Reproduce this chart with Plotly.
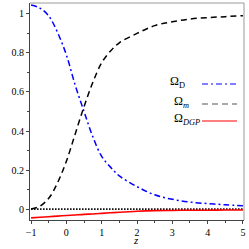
import plotly.graph_objects as go

z = [-1, -0.75, -0.5, -0.25, 0, 0.25, 0.5, 0.75, 1, 1.25, 1.5, 2, 2.5, 3, 3.5, 4, 4.5, 5]
omega_D = [1.046, 1.03, 0.99, 0.905, 0.79, 0.635, 0.50, 0.37, 0.27, 0.215, 0.17, 0.115, 0.073, 0.05, 0.036, 0.028, 0.022, 0.017]
omega_m = [0.0, 0.015, 0.055, 0.135, 0.245, 0.385, 0.525, 0.65, 0.75, 0.81, 0.852, 0.9, 0.94, 0.96, 0.974, 0.981, 0.986, 0.991]
omega_DGP = [-0.045, -0.042, -0.039, -0.036, -0.033, -0.03, -0.027, -0.025, -0.022, -0.019, -0.016, -0.011, -0.008, -0.007, -0.006, -0.006, -0.005, -0.005]
zero_line = [0.0] * len(z)
x_ticks = [-1, 0, 1, 2, 3, 4, 5]
y_ticks = [0, 0.2, 0.4, 0.6, 0.8, 1]

FONT = "Liberation Serif"
fig = go.Figure()
fig.add_trace(go.Scatter(x=z, y=zero_line, mode="lines",
                         line=dict(color="black", width=1.8, dash="1.5px,1.5px")))
fig.add_trace(go.Scatter(x=z, y=omega_DGP, mode="lines", line_shape="spline",
                         line=dict(color="#ff0000", width=1.6)))
fig.add_trace(go.Scatter(x=z, y=omega_m, mode="lines", line_shape="spline",
                         line=dict(color="black", width=1.5, dash="6px,4px")))
fig.add_trace(go.Scatter(x=z, y=omega_D, mode="lines", line_shape="spline",
                         line=dict(color="#0000ff", width=1.5, dash="6px,3px,2px,3px")))

L, R, T, B = 30, 5, 3, 29
W = H = 249
pw, ph = W - L - R, H - T - B
def px(x):
    return (x - L) / pw
def py(y):
    return (H - B - y) / ph

fig.update_layout(
    width=W, height=H, margin=dict(l=L, r=R, t=T, b=B),
    plot_bgcolor="white", paper_bgcolor="white", showlegend=False,
    font=dict(family=FONT, size=10, color="black"),
    xaxis=dict(range=[-1.03, 5.03], tickvals=x_ticks, showgrid=False, zeroline=False, automargin=False,
               showline=True, linecolor="#444", linewidth=1, ticks="outside", ticklen=3,
               tickcolor="#444", minor=dict(dtick=0.5, ticks="outside", ticklen=2, tickcolor="#444")),
    yaxis=dict(range=[-0.056, 1.056], tickvals=y_ticks, showgrid=False, zeroline=False, automargin=False,
               showline=True, linecolor="#444", linewidth=1, ticks="outside", ticklen=3,
               tickcolor="#444", minor=dict(dtick=0.1, ticks="outside", ticklen=2, tickcolor="#444")),
)
# top and right frame
fig.add_shape(type="line", xref="paper", yref="paper", x0=0, x1=1, y0=1, y1=1, line=dict(color="#999", width=1))
fig.add_shape(type="line", xref="paper", yref="paper", x0=1, x1=1, y0=0, y1=1, line=dict(color="#999", width=1))

# axis title
fig.add_annotation(text="<i>z</i>", xref="paper", yref="paper", x=px(136), y=py(240),
                   xanchor="center", yanchor="middle", showarrow=False, borderpad=0,
                   font=dict(size=11, family=FONT, color="black"))

# legend
legend = [
    ("Ω<sub>D</sub>", 168, 84, "#0000ff", "6px,3px,2px,3px"),
    ("Ω<sub><i>m</i></sub>", 172, 104, "#555", "6px,4px"),
    ("Ω<sub><i>DGP</i></sub>", 172, 121, "#ff0000", None),
]
for text, tx, ly, col, dash in legend:
    fig.add_annotation(text=text, xref="paper", yref="paper", x=px(tx), y=py(ly - 2),
                       xanchor="left", yanchor="middle", showarrow=False,
                       font=dict(size=12, family=FONT, color="black"))
    ln = dict(color=col, width=1.2)
    if dash:
        ln["dash"] = dash
    fig.add_shape(type="line", xref="paper", yref="paper", x0=px(202), x1=px(237),
                  y0=py(ly), y1=py(ly), line=ln)

fig.write_html("out.html", config={"displayModeBar": False},
               post_script="document.body.style.margin='0';document.body.style.overflow='hidden';")
